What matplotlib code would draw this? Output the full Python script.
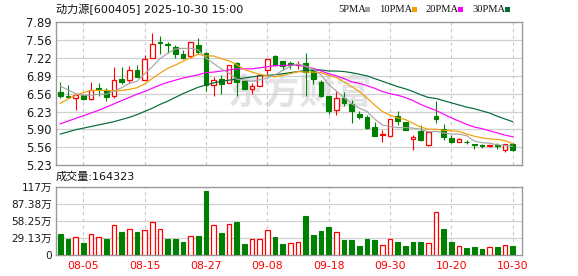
import numpy as np
import matplotlib
matplotlib.use("Agg")
import matplotlib.pyplot as plt
from matplotlib.patches import Rectangle

plt.rcParams['font.family'] = ['DejaVu Sans', 'Noto Sans CJK SC']

# ---------------- data ----------------
title = "动力源[600405] 2025-10-30 15:00"
opens = [6.59, 6.52, 6.48, 6.53, 6.46, 6.66, 6.62, 6.51, 6.83, 6.82,
         7.00, 6.82, 7.23, 7.51, 7.49, 7.42, 7.30, 7.25, 7.46, 7.31,
         6.72, 6.83, 6.76, 7.12, 6.79, 6.65, 6.71, 7.00, 7.26, 7.165,
         7.12, 7.10, 7.13, 7.00, 6.78, 6.52, 6.26, 6.47, 6.37, 6.19,
         6.13, 5.94, 5.80, 5.765, 6.15, 6.03, 5.72, 5.87, 5.61, 6.15,
         5.90, 5.735, 5.67, 5.67, 5.63, 5.61, 5.59, 5.60, 5.51, 5.625]
highs = [6.78, 6.72, 6.53, 6.56, 6.77, 6.76, 6.66, 7.05, 7.05, 7.07,
         7.09, 7.27, 7.68, 7.63, 7.52, 7.47, 7.37, 7.51, 7.59, 7.34,
         6.86, 6.91, 7.09, 7.15, 6.79, 6.76, 6.91, 7.20, 7.27, 7.165,
         7.16, 7.16, 7.32, 7.03, 6.81, 6.52, 6.61, 6.585, 6.44, 6.23,
         6.165, 6.03, 5.89, 6.09, 6.23, 6.04, 5.80, 5.98, 5.86, 6.42,
         5.99, 5.80, 5.73, 5.70, 5.63, 5.625, 5.605, 5.64, 5.625, 5.64]
lows = [6.47, 6.47, 6.26, 6.44, 6.45, 6.52, 6.43, 6.47, 6.73, 6.76,
        6.86, 6.81, 7.22, 7.30, 7.31, 7.23, 7.20, 7.23, 7.29, 6.60,
        6.52, 6.55, 6.76, 6.52, 6.64, 6.55, 6.71, 6.90, 7.08, 7.00,
        7.02, 7.02, 6.52, 6.74, 6.50, 6.18, 6.17, 6.34, 6.01, 6.09,
        5.91, 5.78, 5.66, 5.765, 5.98, 5.88, 5.52, 5.69, 5.59, 6.02,
        5.70, 5.64, 5.66, 5.63, 5.53, 5.545, 5.57, 5.53, 5.47, 5.49]
closes = [6.52, 6.50, 6.53, 6.46, 6.62, 6.65, 6.50, 6.82, 6.77, 6.99,
          6.87, 7.20, 7.49, 7.50, 7.47, 7.29, 7.23, 7.51, 7.34, 6.72,
          6.81, 6.73, 7.085, 6.78, 6.64, 6.70, 6.905, 7.20, 7.09, 7.07,
          7.10, 7.11, 6.97, 6.84, 6.52, 6.23, 6.47, 6.39, 6.23, 6.135,
          5.93, 5.78, 5.815, 6.09, 6.055, 5.89, 5.76, 5.70, 5.84, 6.09,
          5.75, 5.66, 5.72, 5.66, 5.605, 5.59, 5.60, 5.59, 5.625, 5.51]

ma5 = [6.70, 6.63, 6.56, 6.53, 6.53, 6.55, 6.55, 6.61, 6.67, 6.75,
       6.79, 6.93, 7.06, 7.21, 7.31, 7.39, 7.40, 7.40, 7.37, 7.22,
       7.12, 7.02, 6.94, 6.83, 6.81, 6.79, 6.82, 6.85, 6.91, 6.99,
       7.07, 7.11, 7.07, 7.02, 6.91, 6.73, 6.61, 6.49, 6.37, 6.29,
       6.23, 6.09, 5.98, 5.95, 5.93, 5.93, 5.92, 5.90, 5.85, 5.86,
       5.83, 5.81, 5.81, 5.78, 5.68, 5.65, 5.64, 5.61, 5.60, 5.58]
ma10 = [6.38, 6.46, 6.53, 6.58, 6.62, 6.62, 6.62, 6.61, 6.62, 6.64,
        6.67, 6.74, 6.84, 6.94, 7.03, 7.09, 7.16, 7.23, 7.29, 7.26,
        7.26, 7.21, 7.17, 7.10, 7.01, 6.96, 6.92, 6.89, 6.87, 6.90,
        6.93, 6.97, 6.96, 6.96, 6.95, 6.90, 6.86, 6.78, 6.69, 6.60,
        6.48, 6.35, 6.23, 6.16, 6.11, 6.08, 6.01, 5.94, 5.90, 5.90,
        5.88, 5.87, 5.86, 5.81, 5.77, 5.74, 5.72, 5.71, 5.69, 5.63]
ma20 = [6.00, 6.05, 6.10, 6.15, 6.20, 6.25, 6.31, 6.37, 6.43, 6.49,
        6.55, 6.60, 6.66, 6.72, 6.77, 6.81, 6.85, 6.88, 6.91, 6.95,
        6.96, 6.98, 7.00, 7.02, 7.02, 7.02, 7.04, 7.06, 7.08, 7.08,
        7.09, 7.09, 7.06, 7.03, 6.98, 6.93, 6.89, 6.84, 6.78, 6.75,
        6.71, 6.66, 6.60, 6.56, 6.53, 6.49, 6.43, 6.36, 6.30, 6.25,
        6.18, 6.11, 6.05, 5.99, 5.94, 5.91, 5.87, 5.83, 5.79, 5.76]
ma30 = [5.81, 5.85, 5.89, 5.92, 5.95, 5.98, 6.01, 6.04, 6.08, 6.12,
        6.17, 6.23, 6.29, 6.36, 6.42, 6.49, 6.56, 6.62, 6.68, 6.72,
        6.76, 6.79, 6.81, 6.83, 6.85, 6.87, 6.89, 6.90, 6.91, 6.93,
        6.95, 6.97, 6.99, 7.00, 7.00, 6.98, 6.98, 6.97, 6.95, 6.92,
        6.89, 6.84, 6.79, 6.74, 6.69, 6.65, 6.60, 6.54, 6.49, 6.47,
        6.43, 6.39, 6.35, 6.31, 6.28, 6.24, 6.20, 6.14, 6.09, 6.04]

# volume in 万 (10k shares); vol_up: R = red (close up vs previous close), G = green
volume = [36.3, 27.8, 30.7, 21.0, 35.8, 30.7, 27.8, 51.1, 39.8, 44.3,
          39.8, 43.2, 56.2, 44.3, 27.8, 27.8, 22.7, 32.4, 32.9, 109.6,
          51.1, 38.1, 52.8, 56.8, 19.3, 27.3, 27.3, 43.2, 31.2, 19.3,
          20.4, 22.2, 67.0, 34.6, 41.5, 48.3, 39.2, 26.1, 26.1, 15.3,
          27.8, 26.1, 17.0, 27.3, 22.7, 15.3, 22.7, 22.7, 20.4, 73.3,
          44.9, 22.7, 15.3, 12.5, 13.6, 10.8, 13.6, 14.2, 17.0, 16.43]
vol_up = "GGRGRRGRGRGRRRGGGRGGRGRGGRRRGGRRGGGGRGGGGGRRGGGGRRGGRGGGRGRG"

price_ticks = ["7.89", "7.56", "7.22", "6.89", "6.56", "6.23", "5.90", "5.56", "5.23"]
vol_ticks = ["0", "29.13万", "58.25万", "87.38万", "117万"]
date_labels = ["08-05", "08-15", "08-27", "09-08", "09-18", "09-30", "10-20", "10-30"]
date_index = [3, 11, 19, 27, 35, 43, 51, 59]
last_volume_text = "成交量:164323"
ma_names = ["5PMA", "10PMA", "20PMA", "30PMA"]

# ---------------- style ----------------
W, H = 578, 276
RED = "#ff0000"
GREEN = "#008000"
MA_COLORS = ["#a6a6a6", "#f0a000", "#ff00ff", "#006b35"]
GRID = "#d0d0d0"
FRAME = "#9a9a9a"

fig = plt.figure(figsize=(W / 100, H / 100), dpi=100)
fig.patch.set_facecolor("white")

def px_axes(left, top, right, bottom):
    return fig.add_axes([left / W, 1 - bottom / H, (right - left) / W, (bottom - top) / H])

ax1 = px_axes(56, 22, 522, 165.3)
ax2 = px_axes(56, 186.7, 522, 255.3)

n = len(closes)
x = np.arange(n)
bw = 0.6

for ax in (ax1, ax2):
    ax.set_xlim(-0.56, 60.22)
    for s in ax.spines.values():
        s.set_color(FRAME)
        s.set_linewidth(1.0)
    ax.set_xticks(date_index)
    ax.tick_params(axis="both", length=0)
    for xi in date_index:
        ax.axvline(xi, color="#c8c8c8", lw=0.8, ls=(0, (3, 3)), zorder=0.5)

# price panel
ymin, ymax = 5.23, 7.89
ax1.set_ylim(ymin, ymax)
pticks = np.linspace(ymax, ymin, len(price_ticks))
ax1.set_yticks(pticks)
ax1.set_yticklabels(price_ticks, fontsize=8.3, color="#1a1a1a")
ax1.tick_params(axis="y", pad=3)
ax1.set_xticklabels([])
for yv in pticks[1:-1]:
    ax1.axhline(yv, color=GRID, lw=0.9, zorder=0.4)

# watermark
ax1.text(300 / W, 1 - 93 / H, "东方财富", transform=fig.transFigure, fontsize=26,
         fontweight="bold", style="italic", color="#e3e3e6", ha="center", va="center", zorder=0.3)

for i in range(n):
    o, h, l, c = opens[i], highs[i], lows[i], closes[i]
    lo_b, hi_b = min(o, c), max(o, c)
    body = max(hi_b - lo_b, 0.006)
    if c >= o:
        ax1.vlines(x[i], hi_b, h, color=RED, lw=0.8, zorder=2)
        ax1.vlines(x[i], l, lo_b, color=RED, lw=0.8, zorder=2)
        ax1.add_patch(Rectangle((x[i] - bw / 2, lo_b), bw, body, facecolor="white",
                                edgecolor=RED, lw=0.9, zorder=3))
    else:
        ax1.vlines(x[i], l, h, color=GREEN, lw=0.8, zorder=2)
        ax1.add_patch(Rectangle((x[i] - bw / 2, lo_b), bw, body, facecolor=GREEN,
                                edgecolor=GREEN, lw=0.8, zorder=3))

for series, col in zip([ma30, ma20, ma10, ma5], MA_COLORS[::-1]):
    ax1.plot(x, series, color=col, lw=0.85, zorder=4)

# volume panel
vmax = 116.5
ax2.set_ylim(0, vmax)
vt = np.linspace(0, vmax, len(vol_ticks))
ax2.set_yticks(vt)
ax2.set_yticklabels(vol_ticks, fontsize=7.6, color="#1a1a1a")
ax2.tick_params(axis="y", pad=3)
for yv in vt[1:-1]:
    ax2.axhline(yv, color=GRID, lw=0.9, zorder=0.4)
for i in range(n):
    if vol_up[i] == "R":
        ax2.bar(x[i], volume[i], width=bw, facecolor="white", edgecolor=RED, lw=0.9, zorder=3)
    else:
        ax2.bar(x[i], volume[i], width=bw, facecolor=GREEN, edgecolor=GREEN, lw=0.8, zorder=3)
ax2.set_xticklabels(date_labels, fontsize=7.8, color=RED)
ax2.tick_params(axis="x", pad=4)

# texts
fig.text(56 / W, 1 - 9 / H, title, fontsize=8, color="#111111", ha="left", va="center")
fig.text(56 / W, 1 - 177 / H, last_volume_text, fontsize=8, color="#111111", ha="left", va="center")

leg_x = [338, 379, 425, 472]
sq_x = [365, 412, 458, 505]
for name, lx, sx, col in zip(ma_names, leg_x, sq_x, MA_COLORS):
    fig.text(lx / W, 1 - 9 / H, name, fontsize=7.6, color="#111111", ha="left", va="center",
             family=["Liberation Serif", "DejaVu Serif"])
    fig.patches.append(Rectangle((sx / W, 1 - 11.5 / H), 5 / W, 4.5 / H, transform=fig.transFigure,
                                 facecolor=col, edgecolor="none", figure=fig))

fig.savefig("out.png", dpi=100, facecolor="white")
